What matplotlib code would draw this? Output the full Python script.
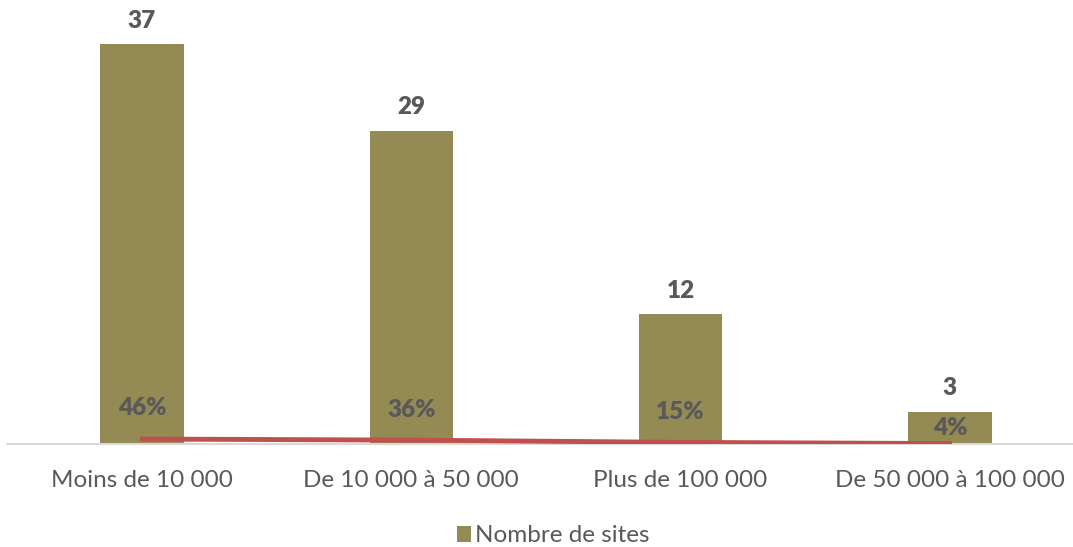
import matplotlib
matplotlib.use("Agg")
import matplotlib.pyplot as plt
from matplotlib.patches import Patch

categories = ["Moins de 10 000", "De 10 000 à 50 000", "Plus de 100 000", "De 50 000 à 100 000"]
sites = [37, 29, 12, 3]
shares = [0.46, 0.36, 0.15, 0.04]
share_labels = ["46%", "36%", "15%", "4%"]

BAR = "#948A54"
RED = "#C0504D"
TXT = "#595959"
FONT = "Lato"
FS = 17.5

W, H = 1073, 547
fig = plt.figure(figsize=(W / 100, H / 100), dpi=100)
ax = fig.add_axes([7.4 / W, (H - 444) / H, 1077 / W, 443 / H])

x = list(range(len(categories)))
bars = ax.bar(x, sites, width=0.31, color=BAR, zorder=2)
ax.bar_label(bars, labels=[str(v) for v in sites], padding=9, color=TXT,
             fontsize=FS, fontweight="heavy", family=FONT)

ax.plot(x, shares, color=RED, linewidth=3.5, solid_capstyle="round", zorder=3)
offsets = [22, 22, 22, 11]
for xi, yi, lab, off in zip(x, shares, share_labels, offsets):
    ax.annotate(lab, (xi, yi), xytext=(0, off), textcoords="offset points",
                ha="center", va="center", color=TXT, fontsize=FS,
                fontweight="heavy", family=FONT, zorder=4)

ax.set_xlim(-0.5, 3.5)
ax.set_ylim(0, 41)
ax.set_yticks([])
ax.set_xticks(x)
ax.set_xticklabels(categories, color=TXT, fontsize=FS, family=FONT)
ax.tick_params(axis="x", length=0, pad=19)
for s in ["top", "right", "left"]:
    ax.spines[s].set_visible(False)
ax.spines["bottom"].set_color("#D9D9D9")
ax.spines["bottom"].set_linewidth(1.5)

handle = Patch(facecolor=BAR, edgecolor="none")
fig.legend([handle], ["Nombre de sites"], loc="center",
           bbox_to_anchor=(553 / W, 1 - 536 / H), frameon=False,
           handlelength=0.6, handleheight=0.6, handletextpad=0.15,
           prop={"family": FONT, "size": FS}, labelcolor=TXT)

fig.savefig("out.png", dpi=100)
